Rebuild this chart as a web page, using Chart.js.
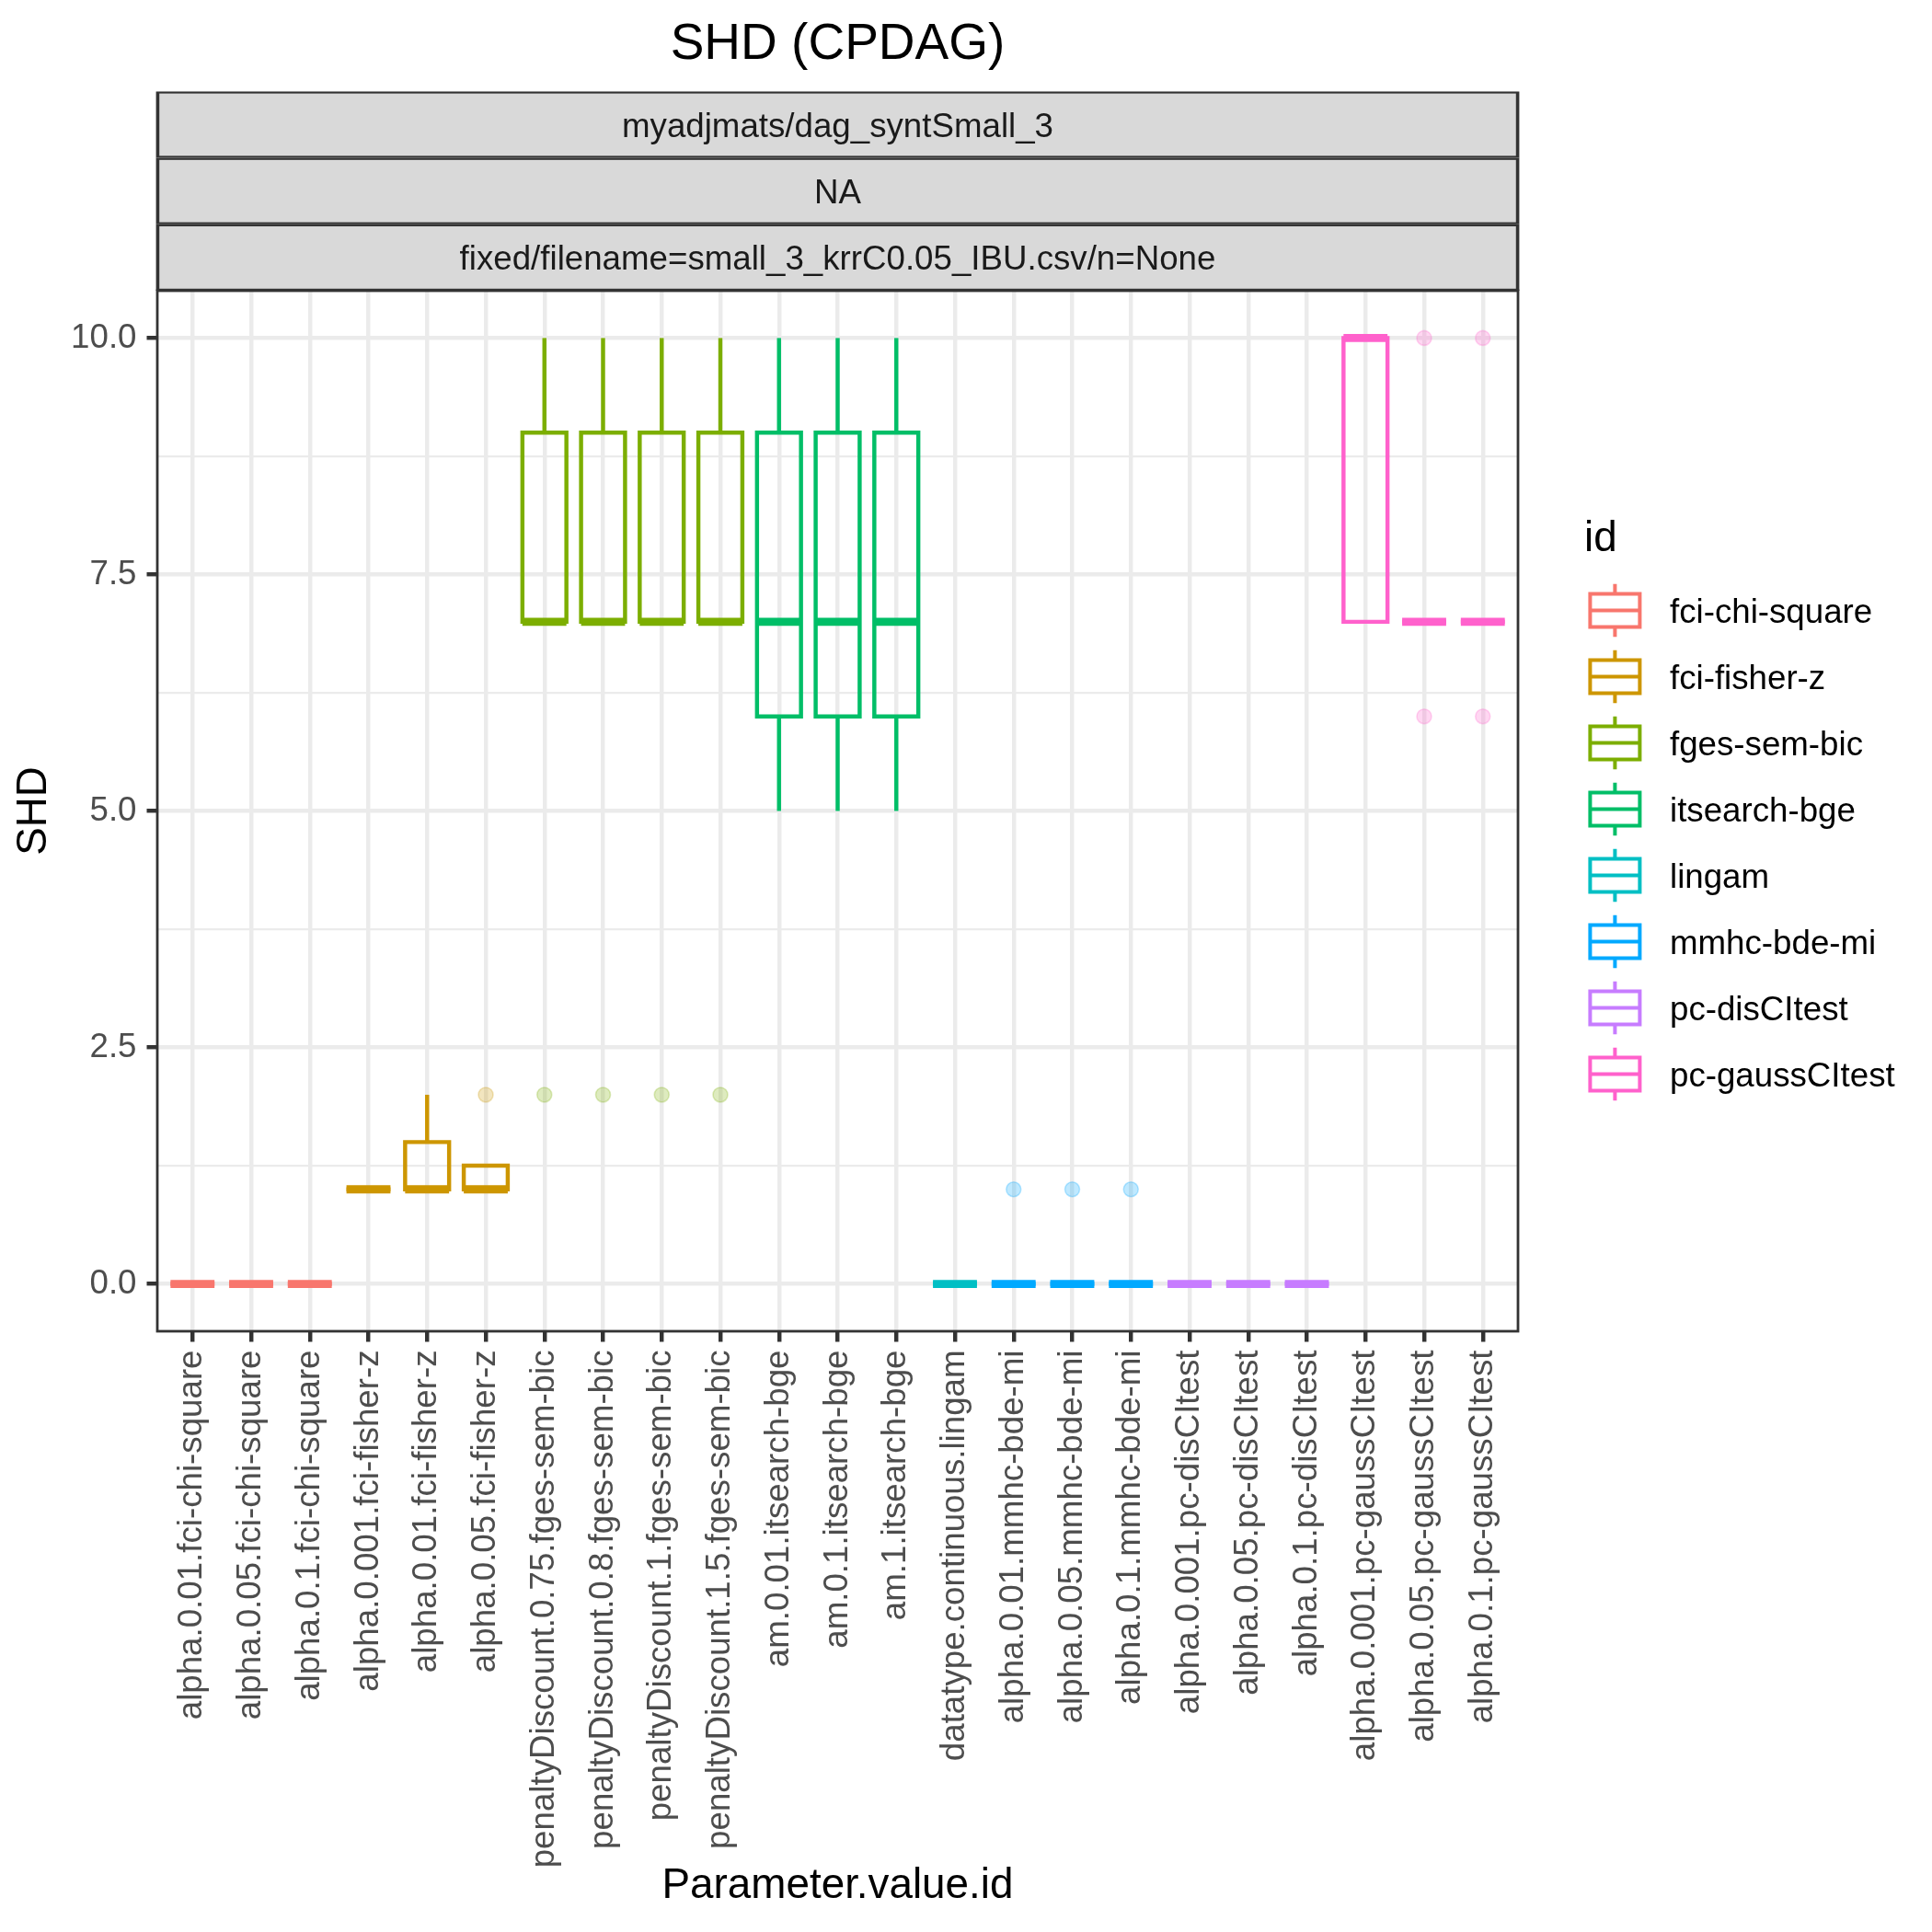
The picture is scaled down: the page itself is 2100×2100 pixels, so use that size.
<!DOCTYPE html>
<html><head><meta charset="utf-8">
<script src="https://cdn.jsdelivr.net/npm/chart.js@4.4.1/dist/chart.umd.min.js"></script>
<style>html,body{margin:0;padding:0;background:#fff}canvas{display:block}</style>
</head><body>
<canvas id="c" width="2100" height="2100"></canvas>
<script>
// ---------------- data ----------------
const chartTitle = 'SHD (CPDAG)';
const stripLabels = ['myadjmats/dag_syntSmall_3', 'NA', 'fixed/filename=small_3_krrC0.05_IBU.csv/n=None'];
const xTitle = 'Parameter.value.id';
const yTitle = 'SHD';
const legendTitle = 'id';

const categories = [
  'alpha.0.01.fci-chi-square', 'alpha.0.05.fci-chi-square', 'alpha.0.1.fci-chi-square',
  'alpha.0.001.fci-fisher-z', 'alpha.0.01.fci-fisher-z', 'alpha.0.05.fci-fisher-z',
  'penaltyDiscount.0.75.fges-sem-bic', 'penaltyDiscount.0.8.fges-sem-bic',
  'penaltyDiscount.1.fges-sem-bic', 'penaltyDiscount.1.5.fges-sem-bic',
  'am.0.01.itsearch-bge', 'am.0.1.itsearch-bge', 'am.1.itsearch-bge',
  'datatype.continuous.lingam',
  'alpha.0.01.mmhc-bde-mi', 'alpha.0.05.mmhc-bde-mi', 'alpha.0.1.mmhc-bde-mi',
  'alpha.0.001.pc-disCItest', 'alpha.0.05.pc-disCItest', 'alpha.0.1.pc-disCItest',
  'alpha.0.001.pc-gaussCItest', 'alpha.0.05.pc-gaussCItest', 'alpha.0.1.pc-gaussCItest'
];
const categoryId = [
  'fci-chi-square', 'fci-chi-square', 'fci-chi-square',
  'fci-fisher-z', 'fci-fisher-z', 'fci-fisher-z',
  'fges-sem-bic', 'fges-sem-bic', 'fges-sem-bic', 'fges-sem-bic',
  'itsearch-bge', 'itsearch-bge', 'itsearch-bge',
  'lingam',
  'mmhc-bde-mi', 'mmhc-bde-mi', 'mmhc-bde-mi',
  'pc-disCItest', 'pc-disCItest', 'pc-disCItest',
  'pc-gaussCItest', 'pc-gaussCItest', 'pc-gaussCItest'
];
const ids = ['fci-chi-square', 'fci-fisher-z', 'fges-sem-bic', 'itsearch-bge',
             'lingam', 'mmhc-bde-mi', 'pc-disCItest', 'pc-gaussCItest'];

const whiskerLow  = [0, 0, 0, 1, 1, 1,    7, 7, 7, 7, 5, 5, 5, 0, 0, 0, 0, 0, 0, 0, 7, 7, 7];
const q1          = [0, 0, 0, 1, 1, 1,    7, 7, 7, 7, 6, 6, 6, 0, 0, 0, 0, 0, 0, 0, 7, 7, 7];
const median      = [0, 0, 0, 1, 1, 1,    7, 7, 7, 7, 7, 7, 7, 0, 0, 0, 0, 0, 0, 0, 10, 7, 7];
const q3          = [0, 0, 0, 1, 1.5, 1.25, 9, 9, 9, 9, 9, 9, 9, 0, 0, 0, 0, 0, 0, 0, 10, 7, 7];
const whiskerHigh = [0, 0, 0, 1, 2, 1.25, 10, 10, 10, 10, 10, 10, 10, 0, 0, 0, 0, 0, 0, 0, 10, 7, 7];
const outliers = [[], [], [], [], [], [2], [2], [2], [2], [2], [], [], [], [],
                  [1], [1], [1], [], [], [], [], [10, 6], [10, 6]];

const yMajorTicks = [0, 2.5, 5, 7.5, 10];
const yMinorTicks = [1.25, 3.75, 6.25, 8.75];

// ---------------- styles ----------------
const idColors = ['#F8766D', '#CD9600', '#7CAE00', '#00BE67', '#00BFC4', '#00A9FF', '#C77CFF', '#FF61CC'];
const FONT = "'Liberation Sans', Arial, Helvetica, sans-serif";
const LW = 4.44;
const BOX_W = 0.75;
const PANEL = {left: 171, right: 1650, top: 316, bottom: 1447};
const STRIP_H = 72.2;

function hexA(hex, a) {
  const n = parseInt(hex.slice(1), 16);
  return `rgba(${(n >> 16) & 255},${(n >> 8) & 255},${n & 255},${a})`;
}
function colorOf(i) { return idColors[ids.indexOf(categoryId[i])]; }

Chart.defaults.font.family = FONT;

const datasets = ids.map((id, k) => {
  const pts = [];
  categories.forEach((c, i) => {
    if (categoryId[i] === id) outliers[i].forEach(v => pts.push({x: i + 1, y: v}));
  });
  return {
    label: id,
    data: pts,
    pointRadius: 8,
    pointHoverRadius: 8,
    pointBorderWidth: 1.6,
    backgroundColor: hexA(idColors[k], 0.25),
    borderColor: hexA(idColors[k], 0.25),
    showLine: false
  };
});

const bgPlugin = {
  id: 'bg',
  beforeDraw(chart) {
    const {ctx} = chart;
    ctx.save(); ctx.fillStyle = '#fff'; ctx.fillRect(0, 0, chart.width, chart.height); ctx.restore();
  }
};

const boxPlugin = {
  id: 'boxes',
  beforeDatasetsDraw(chart) {
    const {ctx, scales: {x, y}} = chart;
    ctx.save();
    ctx.lineCap = 'butt';
    ctx.lineJoin = 'miter';
    categories.forEach((c, i) => {
      const col = colorOf(i);
      const xc = x.getPixelForValue(i + 1);
      const hw = x.getPixelForValue(i + 1 + BOX_W / 2) - xc;
      const pLo = y.getPixelForValue(whiskerLow[i]);
      const pQ1 = y.getPixelForValue(q1[i]);
      const pMed = y.getPixelForValue(median[i]);
      const pQ3 = y.getPixelForValue(q3[i]);
      const pHi = y.getPixelForValue(whiskerHigh[i]);
      ctx.strokeStyle = col;
      ctx.lineWidth = LW;
      if (whiskerHigh[i] > q3[i]) {
        ctx.beginPath(); ctx.moveTo(xc, pQ3); ctx.lineTo(xc, pHi); ctx.stroke();
      }
      if (whiskerLow[i] < q1[i]) {
        ctx.beginPath(); ctx.moveTo(xc, pQ1); ctx.lineTo(xc, pLo); ctx.stroke();
      }
      ctx.beginPath();
      ctx.rect(xc - hw, pQ3, 2 * hw, pQ1 - pQ3);
      ctx.stroke();
      ctx.lineWidth = LW * 2;
      ctx.beginPath(); ctx.moveTo(xc - hw, pMed); ctx.lineTo(xc + hw, pMed); ctx.stroke();
    });
    ctx.restore();
  }
};

const framePlugin = {
  id: 'frame',
  afterDatasetsDraw(chart) {
    const {ctx, chartArea: a} = chart;
    ctx.save();
    // panel border
    ctx.strokeStyle = '#333333';
    ctx.lineWidth = 2.8;
    ctx.strokeRect(a.left, a.top, a.right - a.left, a.bottom - a.top);
    // strips
    const n = stripLabels.length;
    stripLabels.forEach((lab, j) => {
      const y0 = a.top - (n - j) * STRIP_H;
      ctx.save();
      ctx.beginPath(); ctx.rect(a.left - 1.4, y0, a.right - a.left + 2.8, STRIP_H); ctx.clip();
      ctx.fillStyle = '#D9D9D9';
      ctx.fillRect(a.left, y0, a.right - a.left, STRIP_H);
      ctx.strokeStyle = '#333333';
      ctx.lineWidth = LW;
      ctx.strokeRect(a.left, y0, a.right - a.left, STRIP_H);
      ctx.restore();
      ctx.fillStyle = '#1A1A1A';
      ctx.font = `36.7px ${FONT}`;
      ctx.textAlign = 'center';
      ctx.textBaseline = 'alphabetic';
      ctx.fillText(lab, (a.left + a.right) / 2, y0 + STRIP_H / 2 + 13.1);
    });
    ctx.restore();
  },
  afterDraw(chart) {
    const {ctx, chartArea: a} = chart;
    ctx.save();
    // title
    ctx.fillStyle = '#000';
    ctx.font = `55px ${FONT}`;
    ctx.textAlign = 'center';
    ctx.textBaseline = 'alphabetic';
    ctx.fillText(chartTitle, (a.left + a.right) / 2, 63.5);
    // legend
    ctx.textAlign = 'left';
    ctx.font = `45.8px ${FONT}`;
    ctx.fillText(legendTitle, 1722, 599);
    const kx = 1755.4;
    ids.forEach((id, k) => {
      const cy = 663.5 + 72 * k;
      ctx.strokeStyle = idColors[k];
      ctx.lineWidth = 4;
      ctx.lineCap = 'butt';
      ctx.beginPath();
      ctx.moveTo(kx, cy - 28.8); ctx.lineTo(kx, cy - 18);
      ctx.moveTo(kx, cy + 18); ctx.lineTo(kx, cy + 28.8);
      ctx.stroke();
      ctx.beginPath(); ctx.rect(kx - 27, cy - 18, 54, 36); ctx.stroke();
      ctx.beginPath(); ctx.moveTo(kx - 27, cy); ctx.lineTo(kx + 27, cy); ctx.stroke();
      ctx.fillStyle = '#000';
      ctx.font = `36.7px ${FONT}`;
      ctx.fillText(id, 1815, cy + 13.1);
    });
    ctx.restore();
  }
};

const tickFont = {family: FONT, size: 36.7, lineHeight: 1.2};

new Chart(document.getElementById('c'), {
  type: 'scatter',
  data: {datasets},
  plugins: [bgPlugin, boxPlugin, framePlugin],
  options: {
    responsive: false,
    devicePixelRatio: 1,
    animation: false,
    events: [],
    layout: {padding: {top: PANEL.top, right: 2100 - PANEL.right, left: 0, bottom: 0}},
    plugins: {legend: {display: false}, tooltip: {enabled: false}, title: {display: false}},
    scales: {
      x: {
        type: 'linear',
        min: 0.4,
        max: categories.length + 0.6,
        afterBuildTicks(scale) { scale.ticks = categories.map((c, i) => ({value: i + 1})); },
        afterFit(scale) { scale.height = 2100 - PANEL.bottom; },
        border: {display: false},
        grid: {
          color: '#EBEBEB', lineWidth: LW,
          drawTicks: true, tickLength: 11.5, tickColor: '#333333', tickWidth: LW
        },
        ticks: {
          autoSkip: false, maxRotation: 90, minRotation: 90, padding: 9,
          color: '#4D4D4D', font: tickFont,
          callback: (v, i) => categories[i]
        },
        title: {
          display: true, text: xTitle, color: '#000',
          font: {family: FONT, size: 45.8, lineHeight: 1.2},
          padding: {top: 0, bottom: 22}
        }
      },
      y: {
        type: 'linear',
        min: -0.5,
        max: 10.5,
        afterBuildTicks(scale) {
          scale.ticks = yMajorTicks.concat(yMinorTicks).sort((a, b) => a - b).map(v => ({value: v}));
        },
        afterFit(scale) { scale.width = PANEL.left; },
        border: {display: false},
        grid: {
          color: '#EBEBEB',
          lineWidth: ctx => (ctx.tick && yMajorTicks.includes(ctx.tick.value)) ? LW : LW / 2,
          drawTicks: true, tickLength: 11.5,
          tickColor: ctx => (ctx.tick && yMajorTicks.includes(ctx.tick.value)) ? '#333333' : 'rgba(0,0,0,0)',
          tickWidth: LW
        },
        ticks: {
          padding: 11, color: '#4D4D4D', font: tickFont,
          callback: v => yMajorTicks.includes(v) ? v.toFixed(1) : ''
        },
        title: {
          display: true, text: yTitle, color: '#000',
          font: {family: FONT, size: 45.8, lineHeight: 1.2},
          padding: {top: 10, bottom: 0}
        }
      }
    }
  }
});
</script>
</body></html>
